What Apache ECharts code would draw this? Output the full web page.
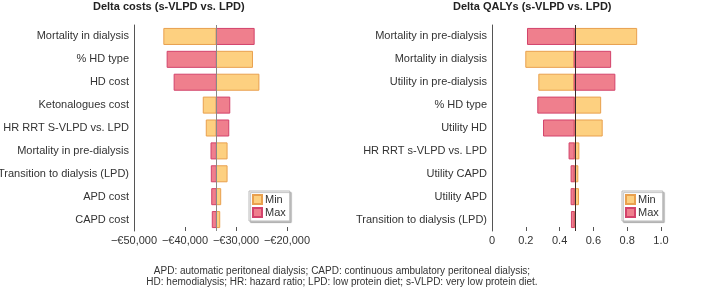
<!DOCTYPE html>
<html><head><meta charset="utf-8">
<script src="https://cdn.jsdelivr.net/npm/echarts@6/dist/echarts.min.js"></script>
<style>html,body{margin:0;padding:0;background:#fff}#c{width:711px;height:289px}</style>
</head><body><div id="c"></div>
<script>
var costCategories = ['Mortality in dialysis','% HD type','HD cost','Ketonalogues cost','HR RRT S-VLPD vs. LPD','Mortality in pre-dialysis','Transition to dialysis (LPD)','APD cost','CAPD cost'];
var costBase = -33860;
var costMin = [-44150, -26770, -25510, -36420, -35830, -31750, -31750, -33000, -33190];
var costMax = [-26440, -43500, -42130, -31220, -31420, -34900, -34840, -34760, -34650];
var costTicks = [-50000, -40000, -30000, -20000];

var qalyCategories = ['Mortality in pre-dialysis','Mortality in dialysis','Utility in pre-dialysis','% HD type','Utility HD','HR RRT s-VLPD vs. LPD','Utility CAPD','Utility APD','Transition to dialysis (LPD)'];
var qalyBase = 0.486;
var qalyMin = [0.856, 0.20, 0.277, 0.643, 0.652, 0.514, 0.508, 0.512, 0.488];
var qalyMax = [0.21, 0.702, 0.727, 0.271, 0.305, 0.456, 0.468, 0.468, 0.47];
var qalyTicks = [0, 0.2, 0.4, 0.6, 0.8, 1.0];

var FONT = 'Liberation Sans, Arial, Helvetica, sans-serif';
var MIN_FILL = '#fdd080', MIN_STROKE = '#e9a04e';
var MAX_FILL = '#ef7f8d', MAX_STROKE = '#d3436b';

function toData(arr){ return arr.map(function(v,i){ return [v, i]; }); }
function renderer(base, fill, stroke){
  return function(params, api){
    var cat = api.value(1), v = api.value(0);
    var p0 = api.coord([base, cat]), p1 = api.coord([v, cat]);
    var h = api.size([0,1])[1] * 0.7;
    return {type:'rect', shape:{x:Math.min(p0[0],p1[0]), y:p0[1]-h/2, width:Math.max(Math.abs(p1[0]-p0[0]),0.5), height:h},
      style:{fill:fill, stroke:stroke, lineWidth:1}};
  };
}
function fmtCost(v){
  var s = Math.abs(v).toLocaleString('en-US');
  return (v < 0 ? '\u2212' : '') + '\u20ac' + s;
}
function fmtQ(v){ return v === 0 ? '0' : v.toFixed(1); }

function mkSeries(name, xi, base, arr, fill, stroke, baseColor){
  var s = {
    type:'custom', name:name, xAxisIndex:xi, yAxisIndex:xi,
    renderItem: renderer(base, fill, stroke),
    encode:{x:0, y:1},
    itemStyle:{color:fill, borderColor:stroke, borderWidth:1},
    data: toData(arr), silent:true
  };
  if (baseColor) {
    s.markLine = {silent:true, symbol:['none','none'], label:{show:false},
      lineStyle:{color:baseColor, width:1, type:'solid'}, data:[{xAxis: base}], animation:false};
  }
  return s;
}

var axisLabelY = {fontSize:11, color:'#333', fontFamily:FONT, margin:5};
var axisLineStyle = {lineStyle:{color:'#555', width:1}};
function mkLegend(left){
  return {data:['Min','Max'], orient:'vertical', left:left, top:191, itemWidth:9, itemHeight:9, itemGap:2, padding:[3,4,3,3],
     backgroundColor:'#fff', borderColor:'#bbb', borderWidth:1, shadowColor:'rgba(0,0,0,0.25)', shadowBlur:1, shadowOffsetX:1.5, shadowOffsetY:1.5,
     textStyle:{fontSize:11, color:'#333', padding:[0,0,0,-2], fontFamily:FONT}, selectedMode:false, icon:'rect'};
}

var option = {
  animation:false,
  textStyle:{fontFamily:FONT},
  title:[
    {text:'Delta costs (s-VLPD vs. LPD)', left:93, top:1, padding:0, textStyle:{fontSize:11, fontWeight:'bold', color:'#222', fontFamily:FONT}},
    {text:'Delta QALYs (s-VLPD vs. LPD)', left:453, top:1, padding:0, textStyle:{fontSize:11, fontWeight:'bold', color:'#222', fontFamily:FONT}}
  ],
  grid:[
    {left:134, top:25, width:153, height:206, outerBoundsMode:'none', containLabel:false},
    {left:492, top:25, width:169, height:206, outerBoundsMode:'none', containLabel:false}
  ],
  xAxis:[
    {type:'value', gridIndex:0, min:costTicks[0], max:costTicks[costTicks.length-1], interval:10000,
     splitLine:{show:false}, axisLine:axisLineStyle, axisTick:{show:true, inside:true, length:4, lineStyle:{color:'#555'}},
     axisLabel:{fontSize:11, color:'#333', margin:4, formatter:fmtCost, fontFamily:FONT}},
    {type:'value', gridIndex:1, min:qalyTicks[0], max:qalyTicks[qalyTicks.length-1], interval:0.2,
     splitLine:{show:false}, axisLine:axisLineStyle, axisTick:{show:true, inside:true, length:4, lineStyle:{color:'#555'}},
     axisLabel:{fontSize:11, color:'#333', margin:4, formatter:fmtQ, fontFamily:FONT}}
  ],
  yAxis:[
    {type:'category', gridIndex:0, data:costCategories, inverse:true, axisLine:axisLineStyle, axisTick:{show:false}, axisLabel:axisLabelY},
    {type:'category', gridIndex:1, data:qalyCategories, inverse:true, axisLine:axisLineStyle, axisTick:{show:false}, axisLabel:axisLabelY}
  ],
  legend:[ mkLegend(249), mkLegend(622) ],
  series:[
    mkSeries('Min', 0, costBase, costMin, MIN_FILL, MIN_STROKE, '#888'),
    mkSeries('Max', 0, costBase, costMax, MAX_FILL, MAX_STROKE, null),
    mkSeries('Min', 1, qalyBase, qalyMin, MIN_FILL, MIN_STROKE, '#3a2a2a'),
    mkSeries('Max', 1, qalyBase, qalyMax, MAX_FILL, MAX_STROKE, null)
  ],
  graphic:[
    {type:'text', x:342, y:266, style:{
      text:'APD: automatic peritoneal dialysis; CAPD: continuous ambulatory peritoneal dialysis;\nHD: hemodialysis; HR: hazard ratio; LPD: low protein diet; s-VLPD: very low protein diet.',
      font:'10px ' + FONT, fill:'#333', align:'center', textAlign:'center', lineHeight:11}}
  ]
};
var chart = echarts.init(document.getElementById('c'), null, {renderer:'canvas'});
chart.setOption(option);
</script></body></html>
